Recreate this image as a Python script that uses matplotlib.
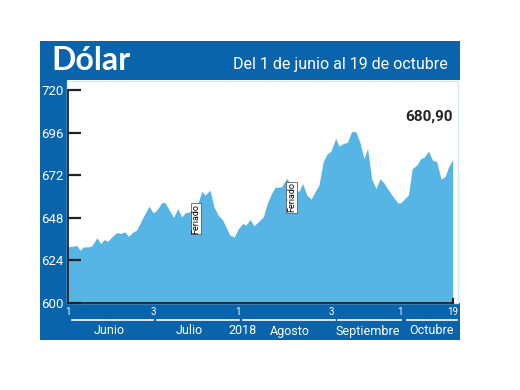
import matplotlib.pyplot as plt
from matplotlib import font_manager

# ---------------------------------------------------------------
# DATOS : posición en días hábiles 0..99
# ---------------------------------------------------------------
dia = [0, 1.9, 2.3, 3.2, 4.0, 5.3, 6.2, 7.5, 8.5, 9.3, 10.3, 11.3, 12.6,
       13.6, 14.7, 15.6, 16.9, 17.7, 19.0, 19.9, 20.9, 22.0, 22.9, 24.2,
       25.0, 25.9, 27.2, 28.3, 29.3, 30.2, 31.4, 32.9, 33.3, 34.5, 35.3,
       36.6, 37.6, 38.7, 39.9, 40.9, 41.7, 42.8, 43.9, 45.0, 45.8, 46.9,
       47.9, 49.0, 50.3, 51.3, 52.4, 53.3, 55.0, 56.3, 58.4, 59.5, 60.4,
       61.5, 62.6, 63.6, 64.6, 65.7, 66.7, 67.7, 68.9, 69.8, 70.9, 71.9,
       73.0, 74.1, 75.1, 76.2, 77.1, 78.2, 79.3, 80.3, 81.3, 82.5, 83.7,
       84.9, 85.6, 86.7, 87.6, 88.6, 89.8, 90.8, 91.6, 92.8, 93.8, 94.9,
       96.0, 97.0, 97.9, 99]
dolar = [631.6, 632.2, 632.4, 629.7, 631.6, 631.6, 632.2, 636.7, 633.5,
         635.7, 634.8, 637.2, 639.7, 639.2, 640.1, 637.6, 640.1, 641.0,
         646.6, 650.4, 654.5, 650.8, 652.3, 656.6, 656.6, 653.2, 648.2,
         653.2, 648.5, 650.8, 651.3, 653.0, 655.0, 663.0, 660.8, 663.6,
         654.2, 649.5, 646.6, 641.9, 638.2, 637.2, 641.9, 644.8, 643.8,
         647.0, 643.5, 645.7, 648.5, 656.0, 661.7, 665.1, 665.5, 670.2,
         663.6, 663.0, 667.3, 660.8, 658.5, 662.7, 666.4, 679.6, 683.9,
         685.6, 692.7, 688.4, 689.9, 690.5, 696.5, 696.5, 690.8, 681.4,
         687.1, 669.6, 664.5, 670.0, 667.7, 663.6, 659.8, 656.4, 656.4,
         658.9, 660.8, 675.8, 677.7, 681.4, 682.0, 685.6, 680.5, 679.6,
         669.8, 671.1, 676.4, 680.9]

y_ticks = [600, 624, 648, 672, 696, 720]
x_tick_pos = [0, 21.9, 43.8, 67.7, 85.4, 99]
x_tick_lab = ["1", "3", "1", "3", "1", "19"]
feriados = [33.0, 57.5]
feriado_val = [639, 651]
meses = ["Junio", "Julio", "Agosto", "Septiembre", "Octubre"]
ultimo = "680,90"

AZUL = "#0A64AC"
CELESTE = "#56B5E4"

names = {f.name for f in font_manager.fontManager.ttflist}
BASE = "Roboto" if "Roboto" in names else "DejaVu Sans"
TIT = "Lato" if "Lato" in names else BASE
plt.rcParams["font.family"] = [BASE, "DejaVu Sans"]

fig = plt.figure(figsize=(5.2, 3.9), dpi=100)
W, H = 520, 390

# capa de fondo en coordenadas de píxel
bg = fig.add_axes([0, 0, 1, 1])
bg.set_xlim(0, W)
bg.set_ylim(H, 0)
bg.axis("off")
bg.add_patch(plt.Rectangle((40, 41), 420, 39, color=AZUL, lw=0))
bg.add_patch(plt.Rectangle((40, 80), 27, 260, color=AZUL, lw=0))
bg.add_patch(plt.Rectangle((40, 303), 420, 37, color=AZUL, lw=0))
bg.add_patch(plt.Rectangle((67, 81), 391, 222, fc="white", ec="#d4e6f2", lw=1))
bg.text(51, 61, "Dólar", color="white", fontsize=23, fontweight="bold",
        family=[TIT, "DejaVu Sans"], va="center", ha="left")
bg.text(448, 64, "Del 1 de junio al 19 de octubre", color="white", fontsize=11.5,
        va="center", ha="right")

# líneas de meses y etiquetas
segs = [(72, 153), (157, 239), (243, 335), (338, 401), (407, 457)]
for a, b in segs:
    bg.plot([a, b], [320, 320], color="white", lw=1.2)
for lab, xc in zip(meses, [109, 189, 290, 368, 432]):
    bg.text(xc, 331, lab, color="white", fontsize=9, ha="center", va="center")
bg.text(243, 331, "2018", color="white", fontsize=9, ha="center", va="center")

# gráfico
ax = fig.add_axes([67.7 / W, 1 - 303 / H, 385 / W, 213 / H])
ax.set_facecolor("none")
ax.fill_between(dia, dolar, 600, color=CELESTE, lw=0)
ax.set_xlim(0, 99)
ax.set_ylim(600, 720)
for s in ["top", "right"]:
    ax.spines[s].set_visible(False)
for s in ["left", "bottom"]:
    ax.spines[s].set_color("#222222")
    ax.spines[s].set_linewidth(1.3)
ax.set_yticks(y_ticks)
ax.tick_params(axis="y", direction="in", length=9, width=1.6, color="#222222",
               labelcolor="white", labelsize=9.5, pad=3)
ax.set_xticks(x_tick_pos)
ax.set_xticklabels(x_tick_lab)
ax.tick_params(axis="x", length=0, labelcolor="white", labelsize=7, pad=3)
ax.plot([99, 99], [600, 602], color="#222222", lw=1.5, clip_on=False)

for xf, yf in zip(feriados, feriado_val):
    ax.text(xf, yf, "Feriado", rotation=90, fontsize=6.5, ha="center", va="bottom",
            color="black", bbox=dict(fc="white", ec="#444444", lw=0.5, pad=0.5))

ax.text(99, 705, ultimo, fontsize=11, fontweight="bold", color="#222222",
        ha="right", va="center")

fig.savefig("out.png", dpi=100)
